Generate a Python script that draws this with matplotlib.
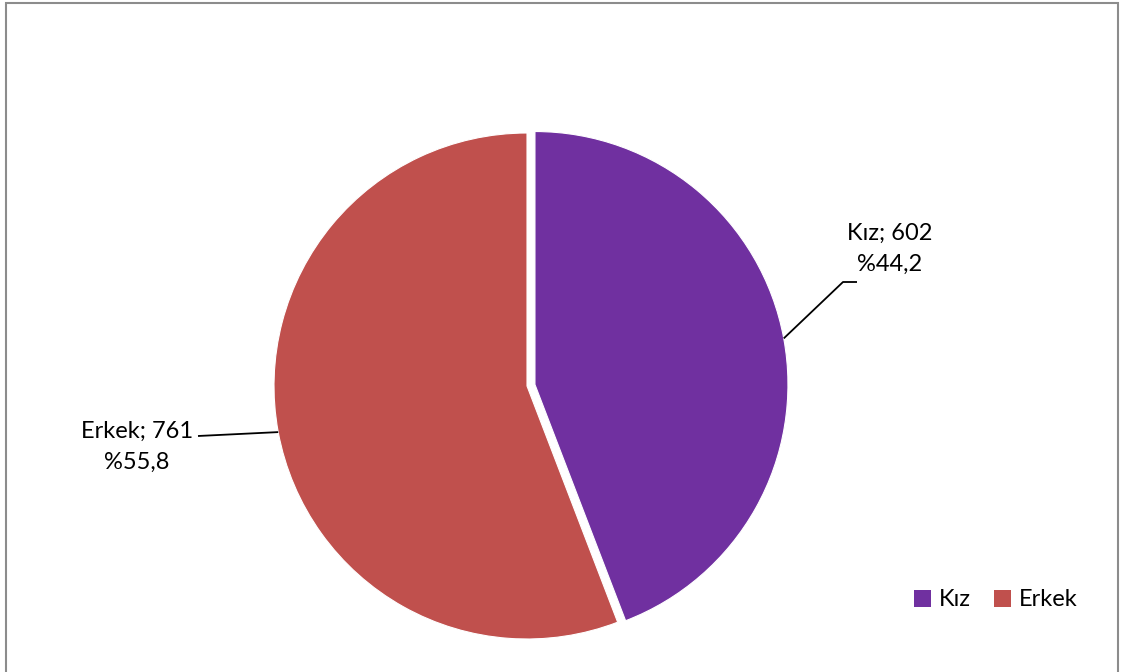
import matplotlib
matplotlib.use("Agg")
import matplotlib.pyplot as plt
import numpy as np
from matplotlib.patches import Rectangle, Patch

categories = ["Kız", "Erkek"]
values = [602, 761]
colors = ["#7030A0", "#C0504D"]
explode = [0.032, 0.0]

W, H = 1123, 672
fig = plt.figure(figsize=(W / 100, H / 100), dpi=100)
plt.rcParams['font.family'] = ['Lato', 'DejaVu Sans']

# pie axes placed so that center ~ (527,386) px, radius ~253 px
cx, cy, r = 527, 386, 253
ax = fig.add_axes([(cx - r) / W, (H - cy - r) / H, 2 * r / W, 2 * r / H])
wedges, _ = ax.pie(values, colors=colors, startangle=90, counterclock=False,
                   explode=explode, radius=1.0,
                   wedgeprops=dict(edgecolor="white", linewidth=0.8))
ax.set_xlim(-1, 1)
ax.set_ylim(-1, 1)
ax.set_aspect("equal")
ax.axis("off")
for w in wedges:
    w.set_clip_on(False)

def px2d(px, py):
    return ((px - cx) / r, (cy - py) / r)

total = sum(values)
fs = 17
# label positions (pixel) and leader elbows
label_pos = [(890, 249), (137, 447)]
elbows = [[(843, 282), (857, 282)], [(198, 436)]]
for i, w in enumerate(wedges):
    ang = np.deg2rad((w.theta1 + w.theta2) / 2)
    ex = explode[i]
    edge = ((1 + ex) * np.cos(ang), (1 + ex) * np.sin(ang))
    pts = [edge] + [px2d(*p) for p in elbows[i]]
    xs, ys = zip(*pts)
    ax.plot(xs, ys, color="black", lw=1.3, clip_on=False, solid_capstyle="butt")
    pct = values[i] / total * 100
    txt = f"{categories[i]}; {values[i]}\n%{pct:.1f}".replace(".", ",")
    tx, ty = px2d(*label_pos[i])
    ax.text(tx, ty, txt, ha="center", va="center", fontsize=fs,
            linespacing=1.6, color="black", clip_on=False)

handles = [Patch(facecolor=c, edgecolor="none") for c in colors]
fig.legend(handles, categories, loc="center left",
           bbox_to_anchor=(914 / W, (H - 600) / H), ncol=2, frameon=False,
           fontsize=fs, handlelength=0.7, handleheight=0.7, handletextpad=0.35,
           columnspacing=1.0, borderpad=0, borderaxespad=0)

# outer border
fig.patches.append(Rectangle((6 / W, -0.02), (1118 - 6) / W, (H - 3) / H + 0.02,
                             transform=fig.transFigure, fill=False,
                             edgecolor="#8c8c8c", linewidth=1.5))

fig.savefig("out.png", dpi=100)
